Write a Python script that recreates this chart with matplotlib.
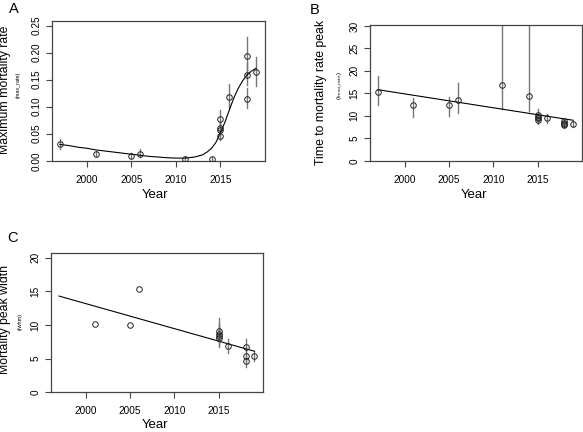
import matplotlib
matplotlib.use("Agg")
import matplotlib.pyplot as plt

plt.rcParams["font.family"] = ["Liberation Sans", "DejaVu Sans"]

# -----------------------------
# Data
# -----------------------------
# Panel A: maximum mortality rate
a_years = [1997, 2001, 2005, 2006, 2011, 2014, 2015, 2015, 2015, 2015, 2016, 2018, 2018, 2018, 2019]
a_vals = [0.030, 0.012, 0.009, 0.013, 0.003, 0.004, 0.078, 0.061, 0.057, 0.046, 0.118, 0.193, 0.159, 0.115, 0.164]
a_low = [0.022, 0.008, 0.005, 0.007, 0.000, 0.001, 0.062, 0.050, 0.046, 0.038, 0.097, 0.160, 0.140, 0.097, 0.139]
a_high = [0.040, 0.018, 0.014, 0.022, 0.008, 0.007, 0.094, 0.074, 0.070, 0.056, 0.141, 0.229, 0.180, 0.135, 0.191]
a_curve_x = [1997, 1998, 1999, 2000, 2001, 2002, 2003, 2004, 2005, 2006, 2007, 2008, 2009,
             2010, 2011, 2012, 2012.5, 2013, 2013.5, 2014, 2014.5, 2015, 2015.5, 2016,
             2016.5, 2017, 2017.5, 2018, 2018.5, 2019]
a_curve_y = [0.030, 0.028, 0.025, 0.023, 0.020, 0.018, 0.016, 0.014, 0.012, 0.010, 0.008, 0.0068, 0.0055,
             0.0048, 0.0048, 0.0065, 0.0085, 0.011, 0.016, 0.023, 0.034, 0.052, 0.071, 0.094,
             0.116, 0.134, 0.148, 0.159, 0.166, 0.171]

# Panel B: time to mortality rate peak
b_years = [1997, 2001, 2005, 2006, 2011, 2014, 2015, 2015, 2015, 2015, 2016, 2018, 2018, 2018, 2018, 2019]
b_vals = [15.4, 12.3, 12.4, 13.5, 16.8, 14.4, 10.2, 9.8, 9.4, 9.0, 9.5, 8.8, 8.4, 8.1, 7.9, 8.2]
b_low = [12.4, 9.8, 9.9, 10.7, 11.4, 11.1, 9.2, 8.8, 8.4, 8.2, 8.3, 8.2, 7.8, 7.6, 7.5, 7.6]
b_high = [18.9, 13.9, 14.1, 17.2, 30.0, 30.0, 11.5, 10.8, 10.4, 9.8, 10.5, 9.3, 9.0, 8.6, 8.4, 8.8]
b_fit_x = [1997, 2019]
b_fit_y = [15.8, 9.0]

# Panel C: mortality peak width
c_years = [2001, 2005, 2006, 2015, 2015, 2015, 2015, 2016, 2018, 2018, 2018, 2019]
c_vals = [10.1, 10.0, 15.4, 9.1, 8.7, 8.3, 8.0, 6.9, 6.8, 5.4, 4.6, 5.4]
c_low = [10.1, 10.0, 15.4, 7.8, 7.4, 7.0, 6.8, 5.9, 6.0, 4.6, 3.8, 4.6]
c_high = [10.1, 10.0, 15.4, 11.0, 10.2, 9.8, 9.4, 7.9, 7.9, 6.2, 5.4, 6.2]
c_fit_x = [1997, 2019]
c_fit_y = [14.3, 6.1]

year_ticks = [2000, 2005, 2010, 2015]

# -----------------------------
# Figure layout (pixel based)
# -----------------------------
W, H = 583, 432
fig = plt.figure(figsize=(W / 100, H / 100), dpi=100)


def box(x0, y0, x1, y1):
    return [x0 / W, 1 - y1 / H, (x1 - x0) / W, (y1 - y0) / H]


def ftext(x, y, s, **kw):
    fig.text(x / W, 1 - y / H, s, ha="center", va="center", **kw)


spine_col = "#444444"
err_col = "#777777"
tick_fs = 7.2


def draw_panel(ax, years, vals, low, high, line_x, line_y, ylim, yticks, ylabels):
    for x, lo, hi in zip(years, low, high):
        if hi > lo:
            ax.plot([x, x], [lo, hi], color=err_col, lw=1.0, zorder=2, clip_on=True)
    ax.plot(line_x, line_y, color="black", lw=0.8, zorder=3)
    ax.plot(years, vals, "o", ms=4.0, mfc="none", mec="#222222", mew=0.7, zorder=4)
    ax.set_xlim(1996.1, 2020.0)
    ax.set_ylim(*ylim)
    ax.set_xticks(year_ticks)
    ax.set_xticklabels([str(y) for y in year_ticks], fontsize=tick_fs)
    ax.set_yticks(yticks)
    ax.set_yticklabels(ylabels, fontsize=tick_fs, rotation=90, va="center")
    for s in ax.spines.values():
        s.set_color(spine_col)
        s.set_linewidth(0.9)
    ax.tick_params(axis="x", direction="out", length=4, width=0.8, color=spine_col, pad=6)
    ax.tick_params(axis="y", direction="out", length=4, width=0.8, color=spine_col, pad=3.5)


# Panel A
axA = fig.add_axes(box(52, 20.7, 265, 160.7))
draw_panel(axA, a_years, a_vals, a_low, a_high, a_curve_x, a_curve_y, (0, 0.259),
           [0, 0.05, 0.10, 0.15, 0.20, 0.25],
           ["0.00", "0.05", "0.10", "0.15", "0.20", "0.25"])

# Panel B
axB = fig.add_axes(box(370, 25, 582, 160.7))
draw_panel(axB, b_years, b_vals, b_low, b_high, b_fit_x, b_fit_y, (0, 30.2),
           [0, 5, 10, 15, 20, 25, 30], ["0", "5", "10", "15", "20", "25", "30"])

# Panel C
axC = fig.add_axes(box(51, 252.7, 263.3, 392.3))
draw_panel(axC, c_years, c_vals, c_low, c_high, c_fit_x, c_fit_y, (0, 20.74),
           [0, 5, 10, 15, 20], ["0", "5", "10", "15", "20"])

# Axis titles
ftext(155, 195, "Year", fontsize=9.5)
ftext(474, 195, "Year", fontsize=9.5)
ftext(155, 425, "Year", fontsize=9.5)

ftext(5.5, 90, "Maximum mortality rate", fontsize=8.8, rotation=90)
ftext(18, 84.5, "(max_rate)", fontsize=4.0, rotation=90)

ftext(321, 92, "Time to mortality rate peak", fontsize=8.8, rotation=90)
ftext(340, 86, r"(t$_{\mathrm{max\_rate}}$)", fontsize=4.6, rotation=90)

ftext(5.5, 320, "Mortality peak width", fontsize=8.8, rotation=90)
ftext(20, 322, "(fwhm)", fontsize=4.0, rotation=90)

# Panel letters
ftext(14, 9, "A", fontsize=10.5)
ftext(314.5, 9.5, "B", fontsize=10.5)
ftext(12, 238, "C", fontsize=10.5)

fig.savefig("out.png", dpi=100)
